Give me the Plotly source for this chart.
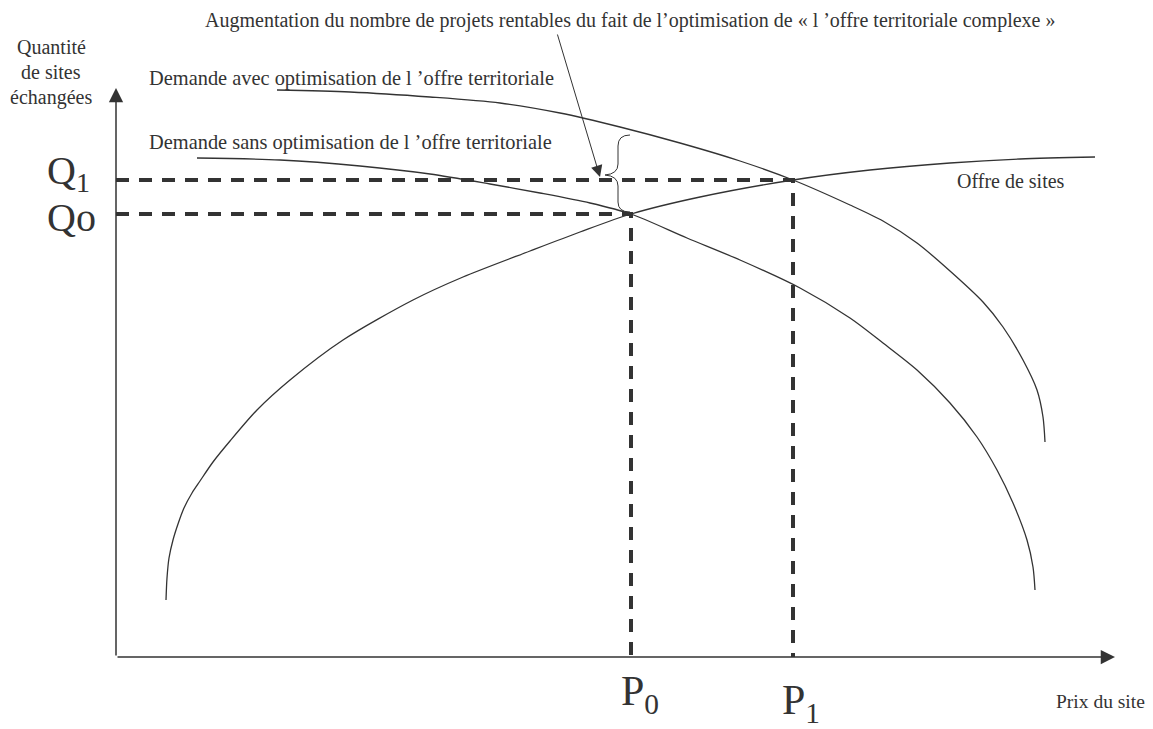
import plotly.graph_objects as go

# ---- data (x = price axis, y = quantity axis, picture units, y downward) ----
supply_x = [166, 167, 169, 173, 178, 184, 192, 200, 213, 230, 257, 290, 343, 413, 463, 530, 580, 631, 700, 793, 870, 950, 1020, 1095]
supply_y = [600, 578, 558, 540, 524, 508, 493, 481, 462, 441, 410, 380, 340, 300, 277, 251, 232, 214, 197, 180, 170, 163, 159, 157]

dem_avec_x = [277, 350, 430, 500, 560, 620, 680, 740, 793, 850, 883, 917, 950, 983, 1003, 1023, 1037, 1043, 1045]
dem_avec_y = [90, 92, 97, 103, 113, 127, 143, 161, 180, 205, 221, 243, 271, 302, 327, 360, 390, 417, 442]

dem_sans_x = [197, 280, 360, 430, 490, 540, 590, 631, 687, 740, 800, 850, 883, 917, 950, 977, 997, 1013, 1027, 1033, 1035]
dem_sans_y = [158, 160, 166, 174, 184, 193, 203, 214, 238, 260, 288, 318, 343, 370, 403, 437, 470, 503, 540, 567, 590]

origin = (116, 657)
axis_end_x = 1115
axis_end_y = 88
P_vals = [631, 793]
Q_vals = [214, 180]
P_labels = ["P<sub>0</sub>", "P<sub>1</sub>"]
Q_labels = ["Qo", "Q<sub>1</sub>"]

INK = "#333333"
SERIF = "Liberation Serif, Times New Roman, serif"
PAGE_MARGIN = 8  # browser default body margin

fig = go.Figure()

for xs, ys in [(supply_x, supply_y), (dem_avec_x, dem_avec_y), (dem_sans_x, dem_sans_y)]:
    fig.add_trace(go.Scatter(x=xs, y=ys, mode="lines",
                             line=dict(color=INK, width=1.3, shape="spline", smoothing=0.8),
                             hoverinfo="skip", showlegend=False))

# dashed guide lines
for p, q in zip(P_vals, Q_vals):
    fig.add_trace(go.Scatter(x=[origin[0], p, p], y=[q, q, origin[1]], mode="lines",
                             line=dict(color=INK, width=4, dash="13px,10px"),
                             hoverinfo="skip", showlegend=False))

annotations = []
# axes with arrows
annotations.append(dict(x=origin[0], y=axis_end_y, ax=origin[0], ay=origin[1],
                        xref="x", yref="y", axref="x", ayref="y", text="",
                        showarrow=True, arrowhead=2, arrowsize=1.9, arrowwidth=1.5, arrowcolor=INK))
annotations.append(dict(x=axis_end_x, y=origin[1], ax=origin[0], ay=origin[1],
                        xref="x", yref="y", axref="x", ayref="y", text="",
                        showarrow=True, arrowhead=2, arrowsize=1.9, arrowwidth=1.5, arrowcolor=INK))
# pointer arrow from top label
annotations.append(dict(x=600, y=177, ax=557, ay=33,
                        xref="x", yref="y", axref="x", ayref="y", text="",
                        showarrow=True, arrowhead=2, arrowsize=2.3, arrowwidth=1, arrowcolor=INK))

def txt(x, y, s, size, xanchor="left", yanchor="middle"):
    annotations.append(dict(x=x, y=y, xref="x", yref="y", text=s, showarrow=False,
                            xanchor=xanchor, yanchor=yanchor,
                            font=dict(family=SERIF, size=size, color=INK)))

txt(630, 20, "Augmentation du nombre de projets rentables du fait de l’optimisation de « l ’offre territoriale complexe »", 20, "center")
txt(51, 47, "Quantité", 20, "center")
txt(51, 72, "de sites", 20, "center")
txt(51, 97, "échangées", 20, "center")
txt(147, 78, "Demande avec optimisation de l ’offre territoriale", 20.4)
txt(147, 142, "Demande sans optimisation de l ’offre territoriale", 20.4)
txt(955, 181, "Offre de sites", 20)
txt(1147, 701, "Prix du site", 19.5, "right")
txt(45, 173, Q_labels[1], 40)
txt(45, 217, Q_labels[0], 40)
txt(P_vals[0] - 12, 694, P_labels[0], 42, "left")
txt(P_vals[1] - 13, 703, P_labels[1], 42, "left")

fig.update_layout(annotations=annotations)

# curly brace
fig.add_shape(type="path", xref="x", yref="y",
              path="M 630 135 Q 618 135 618 146 L 618 164 Q 618 174 605 175 Q 618 176 618 186 L 618 202 Q 618 212 630 212",
              line=dict(color=INK, width=1))

fig.update_layout(
    width=1153, height=729,
    margin=dict(l=0, r=0, t=0, b=0),
    paper_bgcolor="white", plot_bgcolor="white",
    xaxis=dict(range=[PAGE_MARGIN, 1153 + PAGE_MARGIN], visible=False, fixedrange=True),
    yaxis=dict(range=[729 + PAGE_MARGIN, PAGE_MARGIN], visible=False, fixedrange=True),
    showlegend=False,
)

fig.write_html("out.html")
